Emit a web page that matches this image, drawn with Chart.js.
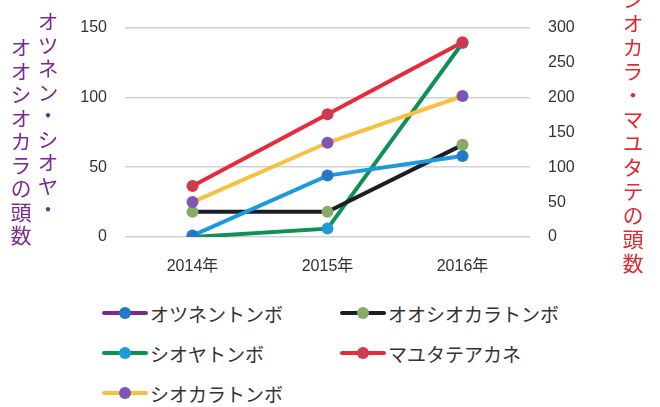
<!DOCTYPE html>
<html>
<head>
<meta charset="utf-8">
<script src="https://cdn.jsdelivr.net/npm/chart.js@4.4.1/dist/chart.umd.min.js"></script>
<style>
body { margin: 0; background: #fff; }
#wrap { position: relative; width: 660px; height: 407px; overflow: hidden; background: #fff; }
#box { position: absolute; left: 0; top: 0; width: 660px; height: 290px; }
.vt { position: absolute; writing-mode: vertical-rl; font-family: "Noto Sans CJK JP", sans-serif; white-space: nowrap; line-height: 1; }
.left-t { color: #7a2a95; font-size: 21px; letter-spacing: 2.5px; }
.right-t { color: #e3262e; font-size: 21px; letter-spacing: 3px; }
#legend { position: absolute; left: 102px; top: 293px; display: grid; grid-template-columns: 238px 240px; grid-auto-rows: 40px; }
.item { display: flex; align-items: center; font-family: "Noto Sans CJK JP", sans-serif; font-size: 19px; color: #333; }
.mk { position: relative; width: 46px; height: 12px; margin-right: 2px; }
.mk .ln { position: absolute; left: 0; top: 4px; width: 46px; height: 4px; border-radius: 2px; }
.mk .dt { position: absolute; left: 17px; top: 0; width: 12px; height: 12px; border-radius: 50%; }
</style>
</head>
<body>
<div id="wrap">
  <div id="box"><canvas id="chart"></canvas></div>
  <div class="vt left-t" style="left:37px; top:11px;">オツネン・シオヤ・</div>
  <div class="vt left-t" style="left:10px; top:37px;">オオシオカラの頭数</div>
  <div class="vt right-t" style="left:622px; top:-11px;">シオカラ・マユタテの頭数</div>
  <div id="legend"></div>
</div>
<script>
// categories
const years = ['2014年', '2015年', '2016年'];

// series (left axis)
const otsunen = [1, 44, 58];
const ooshiokara = [18, 18, 66];
const shioya = [0, 6, 139];
// series (right axis)
const mayutate = [73, 176, 279];
const shiokara = [50, 135, 202];

// ticks
const leftTicks = [0, 50, 100, 150];
const rightTicks = [0, 50, 100, 150, 200, 250, 300];

const tickFamily = '"Liberation Sans Narrow", "Liberation Sans", "Noto Sans CJK JP", sans-serif';

const series = [
  { label: 'マユタテアカネ', data: mayutate, axis: 'yR', line: '#e62a3c', point: '#cf3a4e', legendLine: '#e62a3c' },
  { label: 'シオカラトンボ', data: shiokara, axis: 'yR', line: '#f6c040', point: '#7d55b5', legendLine: '#f6c040' },
  { label: 'オツネントンボ', data: otsunen, axis: 'y', line: '#1b9ae0', point: '#2677c4', legendLine: '#7b2a8c' },
  { label: 'オオシオカラトンボ', data: ooshiokara, axis: 'y', line: '#1b1e26', point: '#86ad68', legendLine: '#1b1e26' },
  { label: 'シオヤトンボ', data: shioya, axis: 'y', line: '#0f9156', point: '#1e9ad8', legendLine: '#0f9156' }
];
const legendOrder = ['オツネントンボ', 'オオシオカラトンボ', 'シオヤトンボ', 'マユタテアカネ', 'シオカラトンボ'];

var chart = new Chart(document.getElementById('chart'), {
  type: 'line',
  data: {
    labels: years,
    datasets: series.map(s => ({
      label: s.label,
      data: s.data,
      yAxisID: s.axis,
      borderColor: s.line,
      backgroundColor: s.point,
      pointBackgroundColor: s.point,
      pointBorderColor: s.point,
      pointRadius: 6,
      pointBorderWidth: 0,
      borderWidth: 4,
      tension: 0
    }))
  },
  options: {
    animation: false,
    responsive: true,
    maintainAspectRatio: false,
    layout: { padding: { top: 23, left: 0, right: 0, bottom: 0 } },
    plugins: {
      legend: { display: false },
      tooltip: { enabled: false }
    },
    scales: {
      x: {
        offset: true,
        grid: { display: false, drawTicks: false },
        border: { display: false },
        ticks: { color: '#333', font: { family: tickFamily, size: 16 }, padding: 20 },
        afterFit: (s) => { s.height = 53; }
      },
      y: {
        position: 'left',
        min: 0,
        max: 150,
        afterBuildTicks: (s) => { s.ticks = leftTicks.map(v => ({ value: v })); },
        grid: { color: '#cdd1da', lineWidth: 1.5, drawTicks: false },
        border: { display: false },
        ticks: { color: '#333', font: { family: tickFamily, size: 16 }, padding: 18 },
        afterFit: (s) => { s.width = 125; }
      },
      yR: {
        position: 'right',
        min: 0,
        max: 300,
        afterBuildTicks: (s) => { s.ticks = rightTicks.map(v => ({ value: v })); },
        grid: { display: false, drawTicks: false },
        border: { display: false },
        ticks: { color: '#333', font: { family: tickFamily, size: 16 }, padding: 18 },
        afterFit: (s) => { s.width = 130; }
      }
    }
  },
  plugins: [{
    id: 'whiteBg',
    beforeDraw: (chart) => {
      const ctx = chart.canvas.getContext('2d');
      ctx.save();
      ctx.globalCompositeOperation = 'destination-over';
      ctx.fillStyle = 'white';
      ctx.fillRect(0, 0, chart.canvas.width, chart.canvas.height);
      ctx.restore();
    }
  }]
});

// html legend, built from the series list
const legend = document.getElementById('legend');
legendOrder.forEach(name => {
  const s = series.find(d => d.label === name);
  const item = document.createElement('div');
  item.className = 'item';
  item.innerHTML = '<span class="mk"><span class="ln" style="background:' + s.legendLine + '"></span>' +
    '<span class="dt" style="background:' + s.point + '"></span></span>';
  item.appendChild(document.createTextNode(s.label));
  legend.appendChild(item);
});
</script>
</body>
</html>
